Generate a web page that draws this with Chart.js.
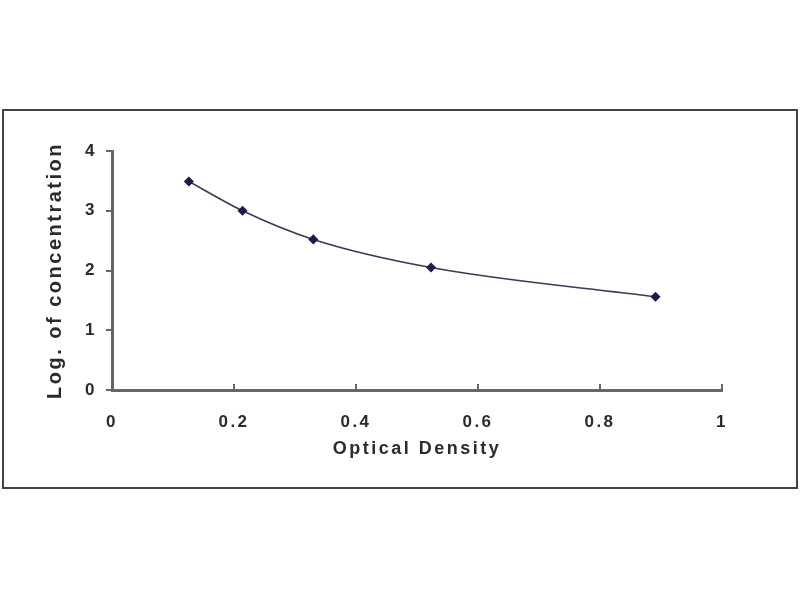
<!DOCTYPE html>
<html lang="en">
<head>
    <meta charset="UTF-8">
    <title>Standard Curve</title>
    <style>
        body { margin: 0; background: #fff; }
        canvas { display: block; }
    </style>
</head>
<body>
    <canvas id="curve" width="800" height="600"></canvas>

    <script src="https://cdn.jsdelivr.net/npm/chart.js"></script>
    <script>
        // values
        const opticalDensity = [0.126, 0.214, 0.330, 0.523, 0.891];
        const logConcentration = [3.49, 3.00, 2.52, 2.05, 1.56];
        const xTicks = [0, 0.2, 0.4, 0.6, 0.8, 1];
        const yTicks = [0, 1, 2, 3, 4];

        const textColor = '#2b2b2b';
        const axisColor = '#666';

        // the frame round the whole figure, plus spaced-out lettering and inward x ticks
        const decor = {
            id: 'decor',
            beforeUpdate(chart) { chart.ctx.letterSpacing = '2.5px'; },
            beforeDraw(chart) {
                const ctx = chart.ctx;
                ctx.letterSpacing = '2.5px';
                ctx.save();
                ctx.fillStyle = '#fff';
                ctx.fillRect(0, 0, chart.width, chart.height);
                ctx.strokeStyle = '#444';
                ctx.lineWidth = 2;
                ctx.strokeRect(3, 110, 794, 378);
                ctx.restore();
            },
            afterDatasetsDraw(chart) {
                const ctx = chart.ctx;
                const x = chart.scales.x;
                const bottom = chart.chartArea.bottom;
                ctx.save();
                ctx.strokeStyle = axisColor;
                ctx.lineWidth = 2;
                xTicks.slice(1).forEach(v => {
                    const px = x.getPixelForValue(v);
                    ctx.beginPath();
                    ctx.moveTo(px, bottom);
                    ctx.lineTo(px, bottom - 6);
                    ctx.stroke();
                });
                ctx.restore();
            }
        };

        new Chart(document.getElementById('curve'), {
            type: 'scatter',
            data: {
                datasets: [{
                    data: opticalDensity.map((od, i) => ({ x: od, y: logConcentration[i] })),
                    showLine: true,
                    tension: 0.4,
                    cubicInterpolationMode: 'monotone',
                    borderColor: '#3a3a55',
                    borderWidth: 1.5,
                    pointStyle: 'rectRot',
                    pointRadius: 4,
                    pointBackgroundColor: '#1a1a50',
                    pointBorderColor: '#1a1a50'
                }]
            },
            options: {
                responsive: false,
                animation: false,
                devicePixelRatio: 1,
                layout: { padding: { left: 41, top: 151, right: 78, bottom: 136 } },
                plugins: { legend: { display: false }, tooltip: { enabled: false } },
                scales: {
                    x: {
                        type: 'linear',
                        min: 0,
                        max: 1,
                        afterBuildTicks: s => { s.ticks = xTicks.map(v => ({ value: v })); },
                        afterFit: s => { s.height = 74; },
                        grid: { drawOnChartArea: false, drawTicks: false },
                        border: { color: axisColor, width: 3 },
                        ticks: {
                            padding: 22,
                            color: textColor,
                            callback: v => String(v),
                            font: { family: 'Liberation Sans, Arial', size: 17, weight: 'bold' }
                        },
                        title: {
                            display: true,
                            text: 'Optical Density',
                            color: textColor,
                            padding: { top: 10, bottom: 4 },
                            font: { family: 'Liberation Sans, Arial', size: 18, weight: 'bold' }
                        }
                    },
                    y: {
                        min: 0,
                        max: 4,
                        afterBuildTicks: s => { s.ticks = yTicks.map(v => ({ value: v })); },
                        afterFit: s => { s.width = 71; },
                        grid: { drawOnChartArea: false, tickLength: 6, color: axisColor, lineWidth: 2 },
                        border: { color: axisColor, width: 3 },
                        ticks: {
                            padding: 9,
                            color: textColor,
                            callback: v => String(v),
                            font: { family: 'Liberation Sans, Arial', size: 17, weight: 'bold' }
                        },
                        title: {
                            display: true,
                            text: 'Log. of concentration',
                            color: textColor,
                            padding: { top: 2, bottom: 4 },
                            font: { family: 'Liberation Sans, Arial', size: 20, weight: 'bold' }
                        }
                    }
                }
            },
            plugins: [decor]
        });
    </script>
</body>
</html>
